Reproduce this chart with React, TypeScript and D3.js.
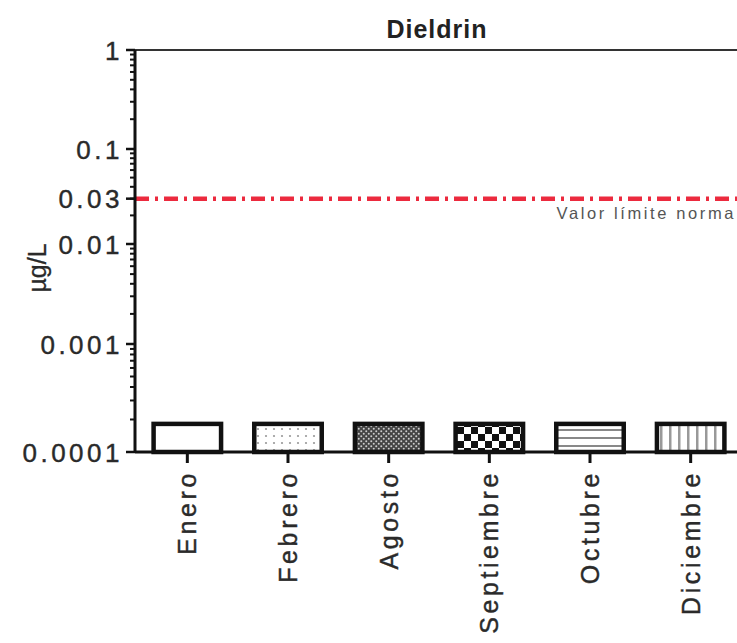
import React from "react";
import * as d3 from "d3";

const title = "Dieldrin";
const months = ["Enero", "Febrero", "Agosto", "Septiembre", "Octubre", "Diciembre"];
const values = [0.00019, 0.00019, 0.00019, 0.00019, 0.00019, 0.00019];
const patterns = ["none", "dots", "fineChecker", "checker", "hlines", "vlines"];
const yTickValues = [1, 0.1, 0.03, 0.01, 0.001, 0.0001];
const yTickLabels = ["1", "0.1", "0.03", "0.01", "0.001", "0.0001"];
const limitValue = 0.03;
const limitLabel = "Valor límite norma";
const yLabel = "µg/L";

const W = 737;
const H = 643;
const FONT = "'Liberation Sans', Arial, sans-serif";

export default function App() {
  const x0 = 135;
  const xEnd = 737;
  const yBase = 452;
  const yTop = 50;

  const y = d3
    .scaleLog()
    .domain([1, 0.1, 0.01, 0.001, 0.0001])
    .range([yTop, 149, 244, 344, yBase]);

  const x = d3
    .scaleBand<string>()
    .domain(months)
    .range([137, 741])
    .paddingInner(0.29)
    .paddingOuter(0.145);

  const minor: number[] = [];
  for (let e = -4; e < 0; e++) {
    for (let k = 2; k <= 9; k++) minor.push(k * Math.pow(10, e));
  }

  const fillFor = (p: string) => (p === "none" ? "#fff" : `url(#pat-${p})`);

  return (
    <svg
      width={W}
      height={H}
      style={{ position: "absolute", left: 0, top: 0, background: "#fff" }}
      fontFamily={FONT}
    >
      <defs>
        <pattern id="pat-dots" width="8" height="7" patternUnits="userSpaceOnUse">
          <rect width="8" height="7" fill="#fff" />
          <circle cx="2" cy="2" r="1.1" fill="#999" />
        </pattern>
        <pattern id="pat-fineChecker" width="5" height="5" patternUnits="userSpaceOnUse">
          <rect width="5" height="5" fill="#444" />
          <circle cx="1.25" cy="1.25" r="1" fill="#ccc" />
          <circle cx="3.75" cy="3.75" r="1" fill="#ccc" />
        </pattern>
        <pattern id="pat-checker" width="14" height="14" patternUnits="userSpaceOnUse" x="2" y="0">
          <rect width="14" height="14" fill="#fff" />
          <rect width="7" height="7" fill="#111" />
          <rect x="7" y="7" width="7" height="7" fill="#111" />
        </pattern>
        <pattern id="pat-hlines" width="10" height="8" patternUnits="userSpaceOnUse" y="2">
          <rect width="10" height="8" fill="#fff" />
          <rect y="3" width="10" height="2" fill="#888" />
        </pattern>
        <pattern id="pat-vlines" width="9" height="10" patternUnits="userSpaceOnUse">
          <rect width="9" height="10" fill="#fff" />
          <rect x="3" width="2.5" height="10" fill="#999" />
        </pattern>
      </defs>

      {/* title */}
      <text
        x={437}
        y={38}
        textAnchor="middle"
        fontSize={25}
        fontWeight="bold"
        fill="#222"
        letterSpacing={1}
      >
        {title}
      </text>

      {/* top frame line */}
      <line x1={x0} x2={xEnd} y1={yTop} y2={yTop} stroke="#333" strokeWidth={2} />

      {/* bars */}
      {months.map((m, i) => {
        const bx = x(m)!;
        const bw = x.bandwidth();
        const top = y(values[i]);
        return (
          <rect
            key={m}
            x={bx + 2}
            y={top + 2}
            width={bw - 4}
            height={yBase - top - 2}
            fill={fillFor(patterns[i])}
            stroke="#111"
            strokeWidth={4.5}
          />
        );
      })}

      {/* limit line */}
      <line
        x1={x0}
        x2={xEnd}
        y1={y(limitValue)}
        y2={y(limitValue)}
        stroke="#ec2a3e"
        strokeWidth={4.5}
        strokeDasharray="14 6 3 6"
      />
      <text
        x={736}
        y={y(limitValue) + 20}
        textAnchor="end"
        fontSize={16.5}
        fill="#555"
        letterSpacing={2.6}
      >
        {limitLabel}
      </text>

      {/* y axis */}
      <line x1={x0} x2={x0} y1={yTop} y2={yBase} stroke="#111" strokeWidth={3} />
      {minor.map((v, i) => (
        <line key={"mn" + i} x1={x0 - 5} x2={x0} y1={y(v)} y2={y(v)} stroke="#111" strokeWidth={2} />
      ))}
      {yTickValues.map((v, i) => (
        <g key={"yt" + i}>
          <line x1={x0 - 9} x2={x0} y1={y(v)} y2={y(v)} stroke="#111" strokeWidth={2.5} />
          <text
            x={x0 - 12}
            y={y(v) + 9.5}
            textAnchor="end"
            fontSize={26}
            fill="#2a2a2a"
            stroke="#2a2a2a"
            strokeWidth={0.4}
            letterSpacing={3.5}
          >
            {yTickLabels[i]}
          </text>
        </g>
      ))}
      <text
        transform={`translate(46, ${268}) rotate(-90)`}
        textAnchor="middle"
        fontSize={25}
        fill="#2a2a2a"
        stroke="#2a2a2a"
        strokeWidth={0.3}
      >
        {yLabel}
      </text>

      {/* x axis */}
      <line x1={x0} x2={xEnd} y1={yBase} y2={yBase} stroke="#111" strokeWidth={3} />
      {months.map((m) => {
        const cx = x(m)! + x.bandwidth() / 2;
        return (
          <g key={"xt" + m}>
            <line x1={cx} x2={cx} y1={yBase} y2={yBase + 11} stroke="#111" strokeWidth={3} />
            <text
              transform={`translate(${cx + 9}, ${470}) rotate(-90)`}
              textAnchor="end"
              fontSize={25}
              fill="#2a2a2a"
              stroke="#2a2a2a"
              strokeWidth={0.4}
              letterSpacing={3.6}
            >
              {m}
            </text>
          </g>
        );
      })}
    </svg>
  );
}
